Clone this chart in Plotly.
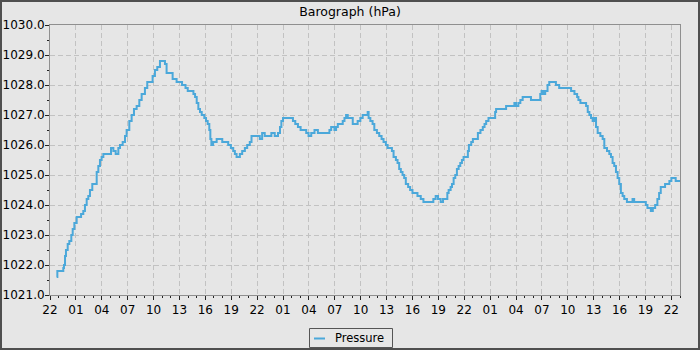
import pandas as pd
import plotly.graph_objects as go

# ---- data (hours after 22:00 on day 0, pressure in hPa) ----
start_time = "2024-01-01 22:00"
hours = [
    0.77, 0.85, 1.54, 1.62, 1.74, 1.85, 2.05, 2.24, 2.47, 2.63, 2.82, 3.09, 3.60, 3.86,
    4.05, 4.25, 4.44, 4.63, 4.90, 5.21, 5.41, 5.60, 5.79, 5.98, 6.18, 6.76, 7.07, 7.34,
    7.61, 7.92, 8.11, 8.42, 8.69, 8.88, 9.19, 9.46, 9.73, 10.04, 10.35, 10.62, 11.00,
    11.27, 11.58, 11.89, 12.16, 12.43, 12.74, 13.13, 13.32, 13.51, 13.90, 14.21, 14.67,
    15.30, 15.70, 15.96, 16.62, 16.81, 17.00, 17.19, 17.38, 17.58, 17.88, 18.08, 18.27,
    18.46, 18.58, 18.70, 18.90, 19.31, 19.96, 20.65, 20.96, 21.23, 21.42, 21.62, 22.00,
    22.27, 22.58, 22.85, 23.15, 23.35, 24.31, 24.58, 24.88, 25.65, 26.04, 26.42, 26.65,
    26.81, 27.00, 28.15, 28.42, 28.73, 29.04, 29.69, 29.96, 30.27, 30.65, 31.04, 32.38,
    32.58, 32.96, 33.15, 33.35, 33.92, 34.12, 34.31, 34.50, 35.08, 35.65, 35.96, 36.23,
    36.81, 36.92, 37.12, 37.38, 37.58, 37.88, 38.15, 38.42, 38.65, 38.92, 39.12, 39.62,
    39.81, 40.08, 40.27, 40.46, 40.65, 40.85, 41.04, 41.23, 41.50, 41.73, 42.00, 42.58,
    42.96, 43.27, 44.42, 44.69, 44.96, 45.27, 45.54, 46.04, 46.19, 46.42, 46.58, 46.77,
    46.96, 47.15, 47.35, 47.54, 47.73, 47.92, 48.42, 48.54, 48.81, 49.00, 49.58, 49.88,
    50.15, 50.35, 50.54, 50.81, 51.58, 51.69, 52.85, 53.81, 54.00, 54.27, 54.50, 54.77,
    55.73, 56.81, 56.96, 57.19, 57.38, 57.65, 57.85, 58.62, 59.00, 60.19, 60.38, 60.77,
    61.08, 61.23, 61.46, 62.12, 62.31, 62.50, 62.69, 62.88, 63.08, 63.27, 63.46, 63.77,
    64.04, 64.23, 64.54, 64.81, 65.00, 65.19, 65.38, 65.58, 65.77, 65.96, 66.15, 66.35,
    66.54, 66.85, 67.50, 67.69, 69.04, 69.23, 69.62, 69.85, 70.12, 70.38, 70.58, 70.77,
    71.27, 71.77, 72.00, 72.50, 73.00,
]
pressure = [
    1021.6, 1021.8, 1021.9, 1022.0, 1022.3, 1022.5, 1022.7, 1022.8, 1023.0, 1023.2, 1023.4, 1023.6, 1023.7, 1023.8,
    1024.0, 1024.2, 1024.3, 1024.5, 1024.7, 1024.7, 1025.1, 1025.3, 1025.5, 1025.6, 1025.7, 1025.7, 1025.9, 1025.8,
    1025.7, 1025.9, 1026.0, 1026.1, 1026.3, 1026.5, 1026.8, 1027.0, 1027.2, 1027.3, 1027.5, 1027.7, 1027.9,
    1028.1, 1028.1, 1028.3, 1028.5, 1028.6, 1028.8, 1028.8, 1028.7, 1028.4, 1028.4, 1028.2, 1028.1,
    1028.0, 1027.9, 1027.8, 1027.7, 1027.6, 1027.4, 1027.2, 1027.1, 1027.0, 1026.9, 1026.8, 1026.7,
    1026.5, 1026.2, 1026.0, 1026.1, 1026.2, 1026.1, 1026.0, 1025.9, 1025.8, 1025.7, 1025.6, 1025.7,
    1025.8, 1025.9, 1026.0, 1026.1, 1026.3, 1026.2, 1026.4, 1026.3, 1026.4, 1026.3, 1026.4, 1026.6,
    1026.8, 1026.9, 1026.8, 1026.7, 1026.6, 1026.5, 1026.4, 1026.3, 1026.4, 1026.5, 1026.4, 1026.5,
    1026.6, 1026.5, 1026.6, 1026.7, 1026.8, 1026.9, 1027.0, 1026.9, 1026.7, 1026.8, 1026.9, 1027.0,
    1027.1, 1026.9, 1026.8, 1026.7, 1026.5, 1026.4, 1026.3, 1026.2, 1026.1, 1026.0, 1025.9, 1025.8,
    1025.6, 1025.5, 1025.4, 1025.2, 1025.1, 1025.0, 1024.9, 1024.7, 1024.6, 1024.5, 1024.4, 1024.3,
    1024.2, 1024.1, 1024.2, 1024.3, 1024.2, 1024.1, 1024.2, 1024.4, 1024.5, 1024.6, 1024.7, 1024.9,
    1025.0, 1025.2, 1025.3, 1025.4, 1025.5, 1025.6, 1025.8, 1026.0, 1026.1, 1026.2, 1026.4, 1026.5,
    1026.6, 1026.7, 1026.8, 1026.9, 1027.1, 1027.2, 1027.3, 1027.4, 1027.3, 1027.4, 1027.5, 1027.6,
    1027.5, 1027.7, 1027.8, 1027.7, 1027.8, 1028.0, 1028.1, 1028.0, 1027.9, 1027.9, 1027.8, 1027.7,
    1027.6, 1027.5, 1027.4, 1027.3, 1027.1, 1027.0, 1026.9, 1026.8, 1026.9, 1026.6, 1026.4, 1026.3,
    1026.2, 1025.9, 1025.8, 1025.7, 1025.6, 1025.4, 1025.3, 1025.1, 1024.9, 1024.7, 1024.4, 1024.3,
    1024.2, 1024.1, 1024.2, 1024.1, 1024.0, 1023.9, 1023.8, 1023.9, 1024.0, 1024.2, 1024.4, 1024.6,
    1024.7, 1024.8, 1024.9, 1024.8, 1024.8,
]
y_range = [1021.0, 1030.0]
x_span_hours = 73
title_text = "Barograph (hPa)"
series_name = "Pressure"

# ---- styling ----
BG = "#e6e6e6"
LINE = "#4ba8da"
GRID = "#c2c2c2"
AXLINE = "#8f8f8f"
FONT = "DejaVu Sans"

t0 = pd.Timestamp(start_time)
times = [t0 + pd.Timedelta(hours=h) for h in hours]
x_end = t0 + pd.Timedelta(hours=x_span_hours)

fig = go.Figure()
fig.add_trace(go.Scatter(
    x=times, y=pressure, mode="lines", line=dict(color=LINE, width=2, shape="hv"),
    name=series_name, showlegend=False,
))

W, H = 700, 350
ml, mr, mt, mb = 50, 20, 25, 55
pw, ph = W - ml - mr, H - mt - mb

def px(xp):
    return (xp - ml) / pw

def py(yp):
    return (H - mb - yp) / ph

fig.update_layout(
    width=W, height=H,
    margin=dict(l=ml, r=mr, t=mt, b=mb, pad=0, autoexpand=False),
    paper_bgcolor=BG, plot_bgcolor=BG,
    font=dict(family=FONT, size=12, color="#000000"),
    title=dict(text=title_text, x=0.5, xref="container", xanchor="center",
               y=1 - 12 / H, yref="container", yanchor="middle",
               font=dict(family=FONT, size=12.5, color="#000000")),
    showlegend=False,
)
fig.update_xaxes(
    type="date", range=[t0, x_end], tick0=t0, dtick=3 * 3600000, tickformat="%H",
    ticks="outside", ticklen=4, tickcolor="#222222", tickwidth=1,
    showline=True, linecolor=AXLINE, linewidth=1, mirror=True,
    showgrid=True, gridcolor=GRID, gridwidth=1, griddash="5px,3px",
    zeroline=False, tickfont=dict(size=12), automargin=False,
    minor=dict(dtick=3600000, tick0=t0, ticks="outside", ticklen=2, tickcolor="#222222", showgrid=False),
)
fig.update_yaxes(
    range=y_range, dtick=1, tick0=1021, tickformat=".1f",
    ticks="outside", ticklen=4, tickcolor="#222222", tickwidth=1,
    showline=True, linecolor=AXLINE, linewidth=1, mirror=True,
    showgrid=True, gridcolor=GRID, gridwidth=1, griddash="5px,3px",
    zeroline=False, tickfont=dict(size=12), ticklabelstandoff=-2, automargin=False,
    minor=dict(dtick=0.5, ticks="outside", ticklen=2, tickcolor="#222222", showgrid=False),
)

# outer frame
fig.add_shape(type="rect", xref="paper", yref="paper",
              x0=px(0.5), x1=px(W - 0.5), y0=py(H - 0.5), y1=py(0.5),
              line=dict(color="#4f4f4f", width=3), fillcolor="rgba(0,0,0,0)", layer="above")

# legend box (custom, to match the short swatch)
fig.add_shape(type="rect", xref="paper", yref="paper",
              x0=px(309.5), x1=px(392.5), y0=py(347.5), y1=py(328.5),
              line=dict(color="#555555", width=1), fillcolor=BG)
fig.add_shape(type="line", xref="paper", yref="paper",
              x0=px(314), x1=px(325), y0=py(338.5), y1=py(338.5),
              line=dict(color=LINE, width=2))
fig.add_annotation(text=series_name, xref="paper", yref="paper",
                   x=px(333), y=py(338), xanchor="left", yanchor="middle",
                   showarrow=False, font=dict(family=FONT, size=11.5, color="#000000"))

fig.write_html("out.html")
